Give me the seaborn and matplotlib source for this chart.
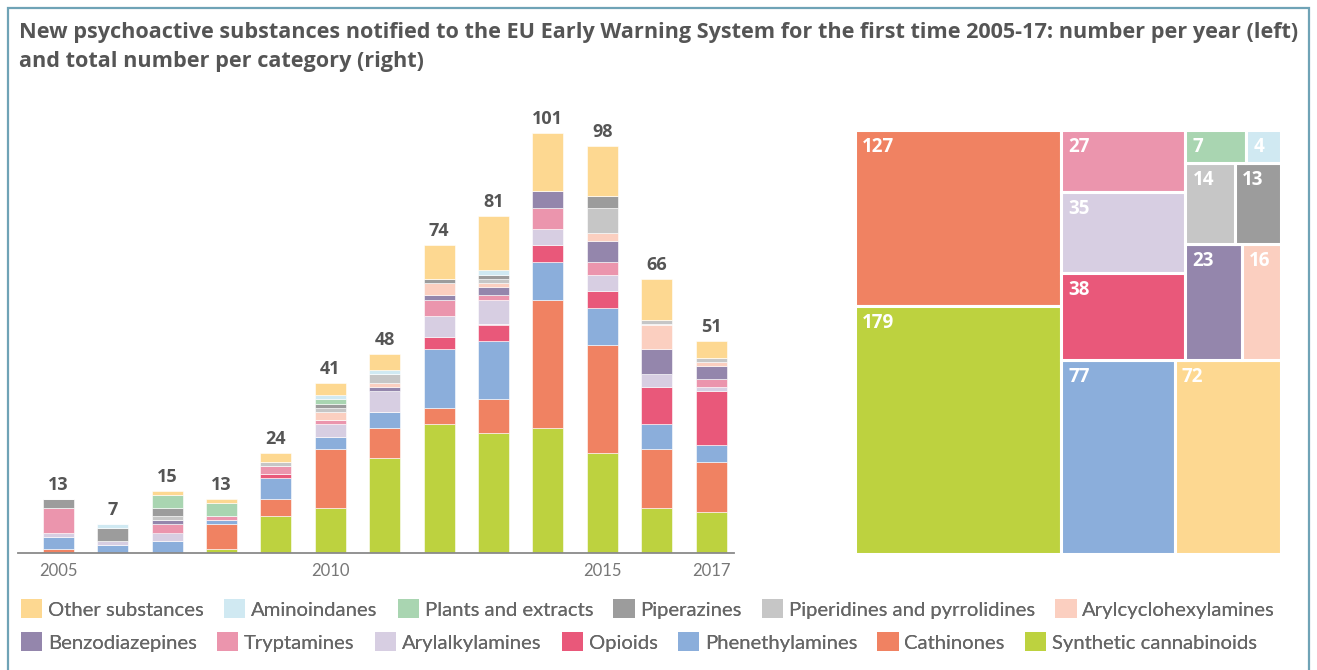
import numpy as np
import pandas as pd
import matplotlib
matplotlib.use("Agg")
import matplotlib.pyplot as plt
import matplotlib.patches as mpatches
from matplotlib.patches import Patch
import seaborn as sns

# ==============================
# Data
# ==============================
years = ["2005", "2006", "2007", "2008", "2009", "2010", "2011",
         "2012", "2013", "2014", "2015", "2016", "2017"]
tick_years = ["2005", "2010", "2015", "2017"]

# stacked from bottom to top
categories = [
    "Synthetic cannabinoids", "Cathinones", "Phenethylamines", "Opioids",
    "Arylalkylamines", "Tryptamines", "Benzodiazepines", "Arylcyclohexylamines",
    "Piperidines and pyrrolidines", "Piperazines", "Plants and extracts",
    "Aminoindanes", "Other substances",
]

synthetic_cannabinoids = [0, 0, 0, 1, 9, 11, 23, 31, 29, 30, 24, 11, 10]
cathinones = [1, 0, 0, 6, 4, 14, 7, 4, 8, 31, 26, 14, 12]
phenethylamines = [3, 2, 3, 1, 5, 3, 4, 14, 14, 9, 9, 6, 4]
opioids = [0, 0, 0, 0, 1, 0, 0, 3, 4, 4, 4, 9, 13]
arylalkylamines = [1, 1, 2, 0, 0, 3, 5, 5, 6, 4, 4, 3, 1]
tryptamines = [6, 0, 2, 1, 2, 1, 0, 4, 1, 5, 3, 0, 2]
benzodiazepines = [0, 0, 1, 0, 0, 0, 1, 1, 2, 4, 5, 6, 3]
arylcyclohexylamines = [0, 0, 0, 0, 0, 2, 1, 3, 1, 0, 2, 6, 1]
piperidines = [0, 0, 1, 0, 1, 1, 2, 0, 1, 0, 6, 1, 1]
piperazines = [2, 3, 2, 0, 0, 1, 0, 1, 1, 0, 3, 0, 0]
plants = [0, 0, 3, 3, 0, 1, 0, 0, 0, 0, 0, 0, 0]
aminoindanes = [0, 1, 0, 0, 0, 1, 1, 0, 1, 0, 0, 0, 0]
other_substances = [0, 0, 1, 1, 2, 3, 4, 8, 13, 14, 12, 10, 4]

series = [synthetic_cannabinoids, cathinones, phenethylamines, opioids,
          arylalkylamines, tryptamines, benzodiazepines, arylcyclohexylamines,
          piperidines, piperazines, plants, aminoindanes, other_substances]

colors = {
    "Other substances": "#FDD891",
    "Aminoindanes": "#D0E9F2",
    "Plants and extracts": "#A9D5B1",
    "Piperazines": "#9C9C9C",
    "Piperidines and pyrrolidines": "#C6C6C6",
    "Arylcyclohexylamines": "#FBCFC0",
    "Benzodiazepines": "#9486AC",
    "Tryptamines": "#EB95AD",
    "Arylalkylamines": "#D7CEE2",
    "Opioids": "#E9587A",
    "Phenethylamines": "#8BAEDB",
    "Cathinones": "#F08262",
    "Synthetic cannabinoids": "#BDD23F",
}

legend_rows = [
    ["Other substances", "Aminoindanes", "Plants and extracts", "Piperazines",
     "Piperidines and pyrrolidines", "Arylcyclohexylamines"],
    ["Benzodiazepines", "Tryptamines", "Arylalkylamines", "Opioids",
     "Phenethylamines", "Cathinones", "Synthetic cannabinoids"],
]

# treemap layout: (side, names) – columns read top->bottom, rows left->right
treemap_steps = [
    ("left", ["Cathinones", "Synthetic cannabinoids"]),
    ("bottom", ["Phenethylamines", "Other substances"]),
    ("left", ["Tryptamines", "Arylalkylamines", "Opioids"]),
    ("bottom", ["Benzodiazepines", "Arylcyclohexylamines"]),
    ("bottom", ["Piperidines and pyrrolidines", "Piperazines"]),
    ("bottom", ["Plants and extracts", "Aminoindanes"]),
]

# long table
rows = []
for cat, vals in zip(categories, series):
    for i, v in enumerate(vals):
        rows.append({"year": i, "category": cat, "count": v})
df = pd.DataFrame(rows)
year_totals = df.groupby("year")["count"].sum()
cat_totals = df.groupby("category")["count"].sum()

# ==============================
# Figure
# ==============================
sns.set_theme(style="white")
plt.rcParams["font.family"] = ["Lato", "DejaVu Sans"]

fig = plt.figure(figsize=(13.17, 6.70), dpi=100)
W, H = 1317, 670

# frame
frame = mpatches.Rectangle((8 / W, -0.1), 1 - 16 / W, 1.1 - 8 / H,
                           transform=fig.transFigure, fill=False,
                           edgecolor="#6FA3B6", linewidth=1.6, clip_on=False)
fig.patches.append(frame)

fig.text(19 / W, 1 - 22 / H,
         "New psychoactive substances notified to the EU Early Warning System for the first time 2005-17: number per year (left)\nand total number per category (right)",
         ha="left", va="top", fontsize=15.6, fontweight="bold", color="#555555",
         family=["Open Sans", "DejaVu Sans"], linespacing=1.5)

# ---- stacked bars ----
unit = 4.16
ax = fig.add_axes([18 / W, 1 - 553.3 / H, 716 / W, 433 / H])
hue_order = categories[::-1]
sns.histplot(data=df, x="year", weights="count", hue="category",
             hue_order=hue_order, palette=colors, multiple="stack",
             discrete=True, shrink=0.57, alpha=1, linewidth=0.4,
             edgecolor="white", legend=False, ax=ax)
ax.set_xlim(-0.74, 12.42)
ax.set_ylim(0, 433 / unit)
ax.set_xlabel("")
ax.set_ylabel("")
ax.set_yticks([])
ax.set_xticks([years.index(y) for y in tick_years])
ax.set_xticklabels(tick_years)
ax.tick_params(axis="x", length=0, pad=7, labelsize=12, labelcolor="#777777")
for s in ["top", "right", "left"]:
    ax.spines[s].set_visible(False)
ax.spines["bottom"].set_color("#8A8A8A")
ax.spines["bottom"].set_linewidth(1.3)
for i, tot in year_totals.items():
    ax.annotate(str(tot), (i, tot), xytext=(0, 5), textcoords="offset pixels",
                ha="center", va="bottom", fontsize=13, fontweight="bold",
                color="#555555", family=["Open Sans", "DejaVu Sans"])

# ---- treemap ----
tx = fig.add_axes([855 / W, 1 - 554 / H, 426 / W, 424 / H])
tx.set_xlim(0, 1)
tx.set_ylim(0, 1)
tx.axis("off")
x0, y0, w, h = 0.0, 0.0, 1.0, 1.0
remaining = float(cat_totals.sum())
for side, names in treemap_steps:
    vals = [cat_totals[n] for n in names]
    s = float(sum(vals))
    rects = []
    if side == "left":
        cw = w * s / remaining
        yy = y0 + h
        for n, v in zip(names, vals):
            rh = h * v / s
            yy -= rh
            rects.append((n, v, x0, yy, cw, rh))
        x0 += cw
        w -= cw
    else:
        rh = h * s / remaining
        xx = x0
        for n, v in zip(names, vals):
            rw = w * v / s
            rects.append((n, v, xx, y0, rw, rh))
            xx += rw
        y0 += rh
        h -= rh
    remaining -= s
    for n, v, rx, ry, rw, rh in rects:
        tx.add_patch(mpatches.Rectangle((rx, ry), rw, rh, facecolor=colors[n],
                                        edgecolor="white", linewidth=2.2))
        tx.annotate(str(v), (rx, ry + rh), xytext=(7, -7),
                    textcoords="offset pixels", ha="left", va="top",
                    fontsize=13.5, fontweight="bold", color="white",
                    family=["Open Sans", "DejaVu Sans"])

# ---- legend ----
for r, (names, ypix) in enumerate(zip(legend_rows, [609, 642])):
    handles = [Patch(facecolor=colors[n], edgecolor="none", label=n) for n in names]
    leg = fig.legend(handles=handles, loc="center left",
                     bbox_to_anchor=(21 / W, 1 - ypix / H), ncol=len(names),
                     frameon=False, fontsize=14.6, handlelength=1.05,
                     handleheight=1.05, handletextpad=0.28, columnspacing=1.0,
                     borderpad=0, borderaxespad=0)
    for t in leg.get_texts():
        t.set_color("#666666")
    fig.add_artist(leg)

fig.savefig("out.png", dpi=100)
